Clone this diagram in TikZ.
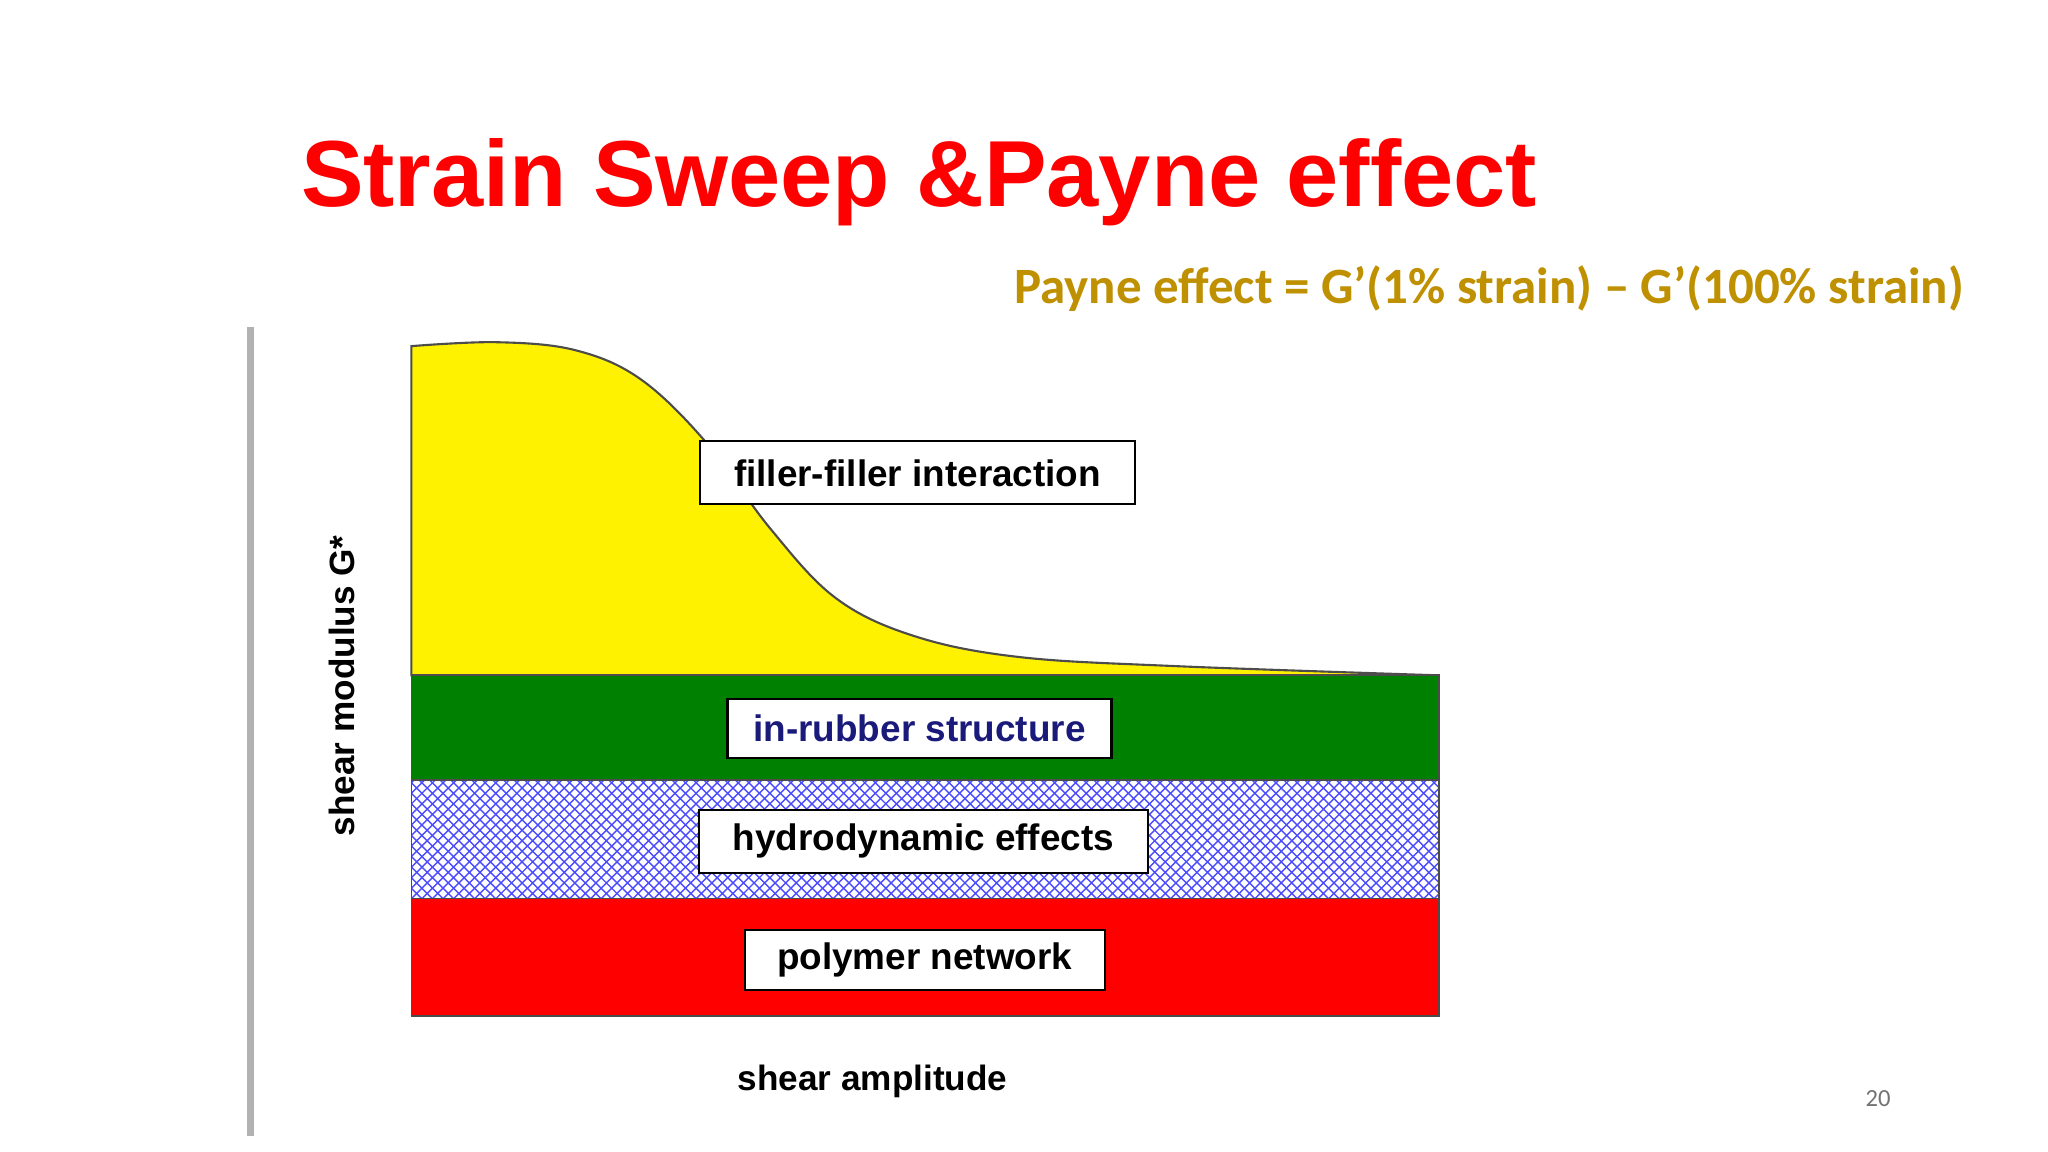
\documentclass[tikz,border=0pt]{standalone}
\usepackage{fontspec}
\setmainfont{Liberation Sans}
\newfontfamily\calib{Carlito}
\usetikzlibrary{patterns}
\definecolor{gold}{HTML}{BF9000}
\definecolor{ttlred}{HTML}{FF0000}
\definecolor{grn}{HTML}{008000}
\definecolor{navy}{HTML}{1A1A7A}
\tikzset{
  lbl/.style={draw=black,fill=white,line width=0.6pt,inner sep=0pt,font=\fontsize{10.5}{12}\selectfont\bfseries},
  band/.style={draw=black!70,line width=0.5pt}
}
\begin{document}
\begin{tikzpicture}[x=0.013061cm,y=-0.013061cm]
\useasboundingbox (0,0) rectangle (1568,882);
\fill[white] (0,0) rectangle (1568,882);
\node[anchor=base west,inner sep=0pt,text=ttlred,font=\fontsize{26.7}{30}\selectfont\bfseries] (title) at (230,158) {Strain Sweep \&Payne effect};
\node[inner sep=0pt,text=gold,font=\calib\fontsize{14.5}{17}\selectfont\bfseries] (payne) at (1140,221) {Payne effect = G’(1\% strain) – G’(100\% strain)};
\draw[black!30,line width=2pt] (192,250) -- (192,870);
% yellow
\filldraw[fill=yellow,draw=black!70,line width=0.6pt] (315,517) -- plot[smooth,tension=0.6] coordinates {(315,265) (380,262) (440,268) (490,290) (540,338) (590,405) (640,458) (700,487) (780,503) (900,510) (1100,517)} -- cycle;
\draw[band,fill=grn] (315,517) rectangle (1102,597);
\fill[white] (315,597) rectangle (1102,688);
\draw[band,pattern=crosshatch,pattern color=blue!70] (315,597) rectangle (1102,688);
\draw[band,fill=red] (315,688) rectangle (1102,778);
\node[lbl] (ff) at (702.5,362) {\parbox[c][0.63cm][c]{4.35cm}{\centering filler-filler interaction}};
\node[lbl] (ir) at (704,557.5) {\parbox[c][0.59cm][c]{3.84cm}{\centering\color{navy}in-rubber structure}};
\node[lbl] (hd) at (707,644) {\parbox[c][0.63cm][c]{4.49cm}{\centering hydrodynamic effects}};
\node[lbl] (pn) at (708,735) {\parbox[c][0.60cm][c]{3.6cm}{\centering polymer network}};
\node[rotate=90,inner sep=0pt,font=\fontsize{10}{12}\selectfont\bfseries] (ylab) at (262,525) {shear modulus G*};
\node[inner sep=0pt,font=\fontsize{10}{12}\selectfont\bfseries] (xlab) at (668,828) {shear amplitude};
\node[inner sep=0pt,text=black!55,font=\calib\fontsize{7}{8}\selectfont] (pg) at (1438,841) {20};
\end{tikzpicture}
\end{document}
